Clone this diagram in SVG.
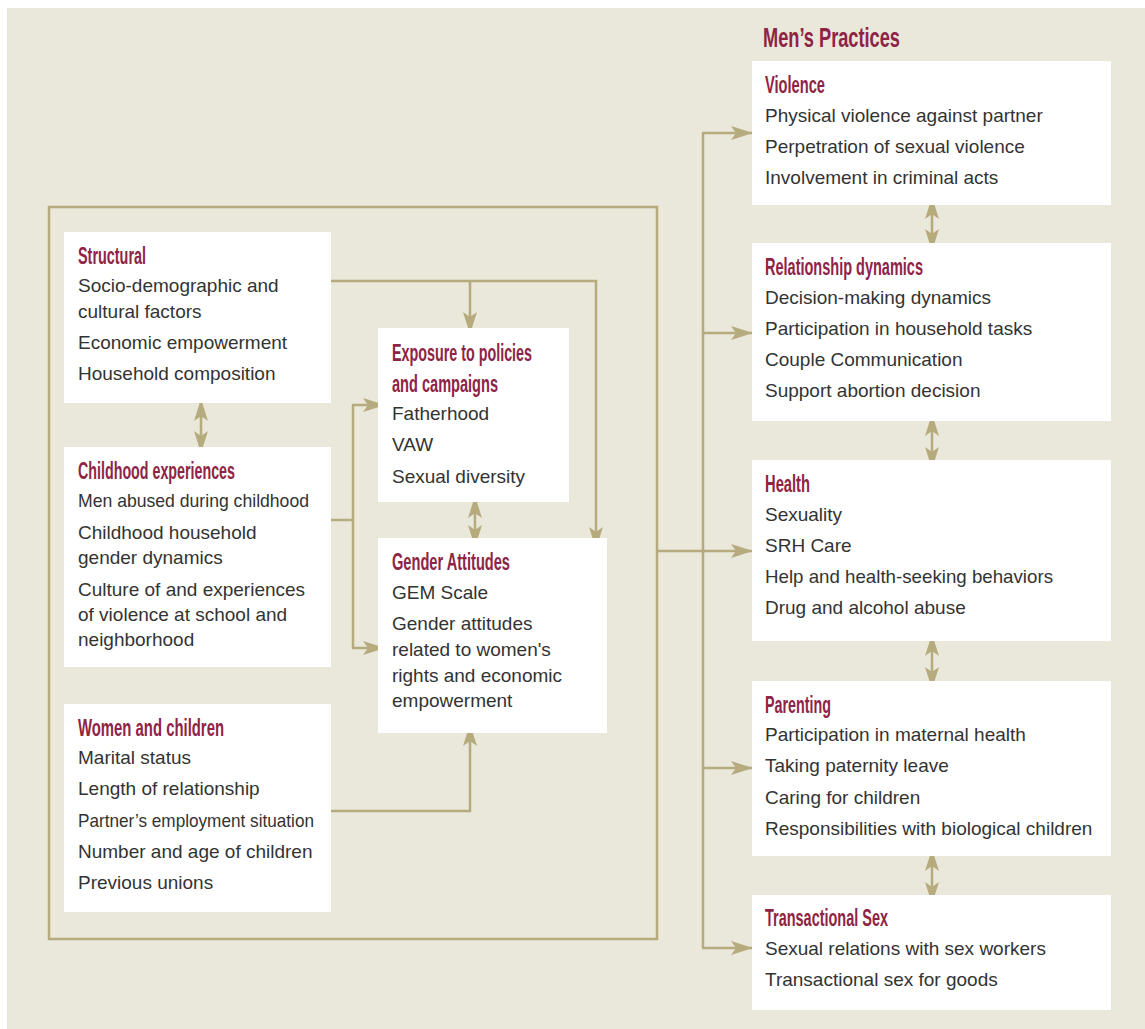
<svg xmlns="http://www.w3.org/2000/svg" width="1145" height="1029" viewBox="0 0 1145 1029">
<defs>
<style>
.bg{fill:#EAE7DB}
.box{fill:#FFFFFF}
.t{font-family:"Liberation Sans",Arial,sans-serif;font-size:19px;fill:#333333}
.h{font-family:"Liberation Sans Narrow","Liberation Sans",Arial,sans-serif;font-size:23px;font-weight:bold;fill:#8E2445}
.big{font-size:28px}
.ln{fill:none;stroke:#B5AB7D;stroke-width:2.5}
.ar{fill:none;stroke:#B5AB7D;stroke-width:2.5;marker-end:url(#ah)}
.dar{fill:none;stroke:#B5AB7D;stroke-width:2.5;marker-end:url(#ah);marker-start:url(#ah)}
</style>
<marker id="ah" viewBox="0 0 22 14" refX="21" refY="7" markerWidth="22" markerHeight="14" markerUnits="userSpaceOnUse" orient="auto-start-reverse">
<path d="M0,0 L22,7 L0,14 L5,7 Z" fill="#B5AB7D"/>
</marker>
</defs>
<rect class="bg" x="7" y="8" width="1138" height="1021"/>

<g id="connectors">
<rect class="ln" x="49" y="207" width="608" height="732"/>
<path class="ar" d="M331,281 H596 V548"/>
<path class="ar" d="M470,281 V333"/>
<path class="ln" d="M331,520 H353"/>
<path class="ln" d="M353,405 V648"/>
<path class="ar" d="M352,405 H384"/>
<path class="ar" d="M352,648 H384"/>
<path class="ar" d="M331,811 H470 V725"/>
<path class="dar" d="M201,400 V452"/>
<path class="dar" d="M475,497 V546"/>
<path class="ln" d="M703,133 V948"/>
<path class="ar" d="M702,133 H752"/>
<path class="ar" d="M702,333 H752"/>
<path class="ar" d="M657,551 H752"/>
<path class="ar" d="M702,768 H752"/>
<path class="ar" d="M702,948 H752"/>
<path class="dar" d="M932,198 V250"/>
<path class="dar" d="M932,415 V468"/>
<path class="dar" d="M932,635 V688"/>
<path class="dar" d="M932,850 V903"/>
</g>

<g id="title">
<text class="h big" x="763" y="47" textLength="137" lengthAdjust="spacingAndGlyphs">Men’s Practices</text>
</g>

<g id="structural">
<rect class="box" x="64" y="232" width="267" height="171"/>
<text class="h" x="78" y="264" textLength="68" lengthAdjust="spacingAndGlyphs">Structural</text>
<text class="t" x="78" y="292">Socio-demographic and</text>
<text class="t" x="78" y="318">cultural factors</text>
<text class="t" x="78" y="349">Economic empowerment</text>
<text class="t" x="78" y="380">Household composition</text>
</g>

<g id="childhood">
<rect class="box" x="64" y="447" width="267" height="220"/>
<text class="h" x="78" y="479" textLength="157" lengthAdjust="spacingAndGlyphs">Childhood experiences</text>
<text class="t" x="78" y="507" textLength="231" lengthAdjust="spacingAndGlyphs">Men abused during childhood</text>
<text class="t" x="78" y="539">Childhood household</text>
<text class="t" x="78" y="564">gender dynamics</text>
<text class="t" x="78" y="596">Culture of and experiences</text>
<text class="t" x="78" y="621">of violence at school and</text>
<text class="t" x="78" y="646">neighborhood</text>
</g>

<g id="women">
<rect class="box" x="64" y="704" width="267" height="208"/>
<text class="h" x="78" y="736" textLength="146" lengthAdjust="spacingAndGlyphs">Women and children</text>
<text class="t" x="78" y="764">Marital status</text>
<text class="t" x="78" y="795">Length of relationship</text>
<text class="t" x="78" y="827" textLength="236" lengthAdjust="spacingAndGlyphs">Partner’s employment situation</text>
<text class="t" x="78" y="858">Number and age of children</text>
<text class="t" x="78" y="889">Previous unions</text>
</g>

<g id="exposure">
<rect class="box" x="378" y="328" width="191" height="174"/>
<text class="h" x="392" y="361" textLength="140" lengthAdjust="spacingAndGlyphs">Exposure to policies</text>
<text class="h" x="392" y="392" textLength="106" lengthAdjust="spacingAndGlyphs">and campaigns</text>
<text class="t" x="392" y="420">Fatherhood</text>
<text class="t" x="392" y="451">VAW</text>
<text class="t" x="392" y="483">Sexual diversity</text>
</g>

<g id="gender">
<rect class="box" x="378" y="538" width="229" height="195"/>
<text class="h" x="392" y="570" textLength="118" lengthAdjust="spacingAndGlyphs">Gender Attitudes</text>
<text class="t" x="392" y="599">GEM Scale</text>
<text class="t" x="392" y="630">Gender attitudes</text>
<text class="t" x="392" y="656">related to women's</text>
<text class="t" x="392" y="682">rights and economic</text>
<text class="t" x="392" y="707">empowerment</text>
</g>

<g id="violence">
<rect class="box" x="752" y="61" width="359" height="144"/>
<text class="h" x="765" y="93" textLength="60" lengthAdjust="spacingAndGlyphs">Violence</text>
<text class="t" x="765" y="122">Physical violence against partner</text>
<text class="t" x="765" y="153">Perpetration of sexual violence</text>
<text class="t" x="765" y="184">Involvement in criminal acts</text>
</g>

<g id="relationship">
<rect class="box" x="752" y="243" width="359" height="178"/>
<text class="h" x="765" y="275" textLength="158" lengthAdjust="spacingAndGlyphs">Relationship dynamics</text>
<text class="t" x="765" y="304">Decision-making dynamics</text>
<text class="t" x="765" y="335">Participation in household tasks</text>
<text class="t" x="765" y="366">Couple Communication</text>
<text class="t" x="765" y="397">Support abortion decision</text>
</g>

<g id="health">
<rect class="box" x="752" y="460" width="359" height="181"/>
<text class="h" x="765" y="492" textLength="45" lengthAdjust="spacingAndGlyphs">Health</text>
<text class="t" x="765" y="521">Sexuality</text>
<text class="t" x="765" y="552">SRH Care</text>
<text class="t" x="765" y="583" textLength="288" lengthAdjust="spacingAndGlyphs">Help and health-seeking behaviors</text>
<text class="t" x="765" y="614">Drug and alcohol abuse</text>
</g>

<g id="parenting">
<rect class="box" x="752" y="681" width="359" height="175"/>
<text class="h" x="765" y="713" textLength="66" lengthAdjust="spacingAndGlyphs">Parenting</text>
<text class="t" x="765" y="741">Participation in maternal health</text>
<text class="t" x="765" y="772">Taking paternity leave</text>
<text class="t" x="765" y="804">Caring for children</text>
<text class="t" x="765" y="835">Responsibilities with biological children</text>
</g>

<g id="transactional">
<rect class="box" x="752" y="895" width="359" height="115"/>
<text class="h" x="765" y="926" textLength="123" lengthAdjust="spacingAndGlyphs">Transactional Sex</text>
<text class="t" x="765" y="955">Sexual relations with sex workers</text>
<text class="t" x="765" y="986">Transactional sex for goods</text>
</g>
</svg>
